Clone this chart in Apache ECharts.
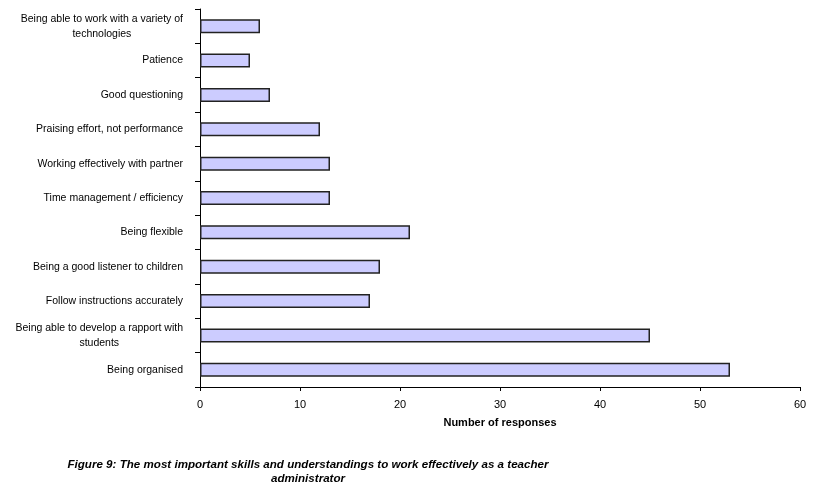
<!DOCTYPE html>
<html><head><meta charset="utf-8">
<script src="https://cdn.jsdelivr.net/npm/echarts@6/dist/echarts.min.js"></script>
<style>html,body{margin:0;padding:0;background:#fff}#c{width:818px;height:491px}</style>
</head><body><div id="c"></div>
<script>
var categories = [
  "Being organised",
  "Being able to develop a rapport with\nstudents",
  "Follow instructions accurately",
  "Being a good listener to children",
  "Being flexible",
  "Time management / efficiency",
  "Working effectively with partner",
  "Praising effort, not performance",
  "Good questioning",
  "Patience",
  "Being able to work with a variety of\ntechnologies"
];
var responses = [53, 45, 17, 18, 21, 13, 13, 12, 7, 5, 6];
var xTicks = [0, 10, 20, 30, 40, 50, 60];
var axisName = "Number of responses";
var caption = "Figure 9: The most important skills and understandings to work effectively as a teacher\nadministrator";

var chart = echarts.init(document.getElementById('c'));
var font = "Liberation Sans, Arial, sans-serif";
chart.setOption({
  animation: false,
  textStyle: {fontFamily: font},
  grid: {left: 200, right: 18, top: 9, bottom: 104, containLabel: false},
  xAxis: {
    type: 'value', min: xTicks[0], max: xTicks[xTicks.length-1], interval: 10,
    axisLine: {show: true, lineStyle: {color: '#000', width: 1}},
    axisTick: {show: true, length: 4, lineStyle: {color: '#000'}},
    axisLabel: {color: '#000', fontSize: 11, margin: 12, fontFamily: font},
    splitLine: {show: false},
    name: axisName, nameLocation: 'middle', nameGap: 30,
    nameTextStyle: {color: '#000', fontSize: 11, fontWeight: 'bold', fontFamily: font}
  },
  yAxis: {
    type: 'category', data: categories,
    axisLine: {show: true, lineStyle: {color: '#000', width: 1}},
    axisTick: {show: true, length: 5, alignWithLabel: false, lineStyle: {color: '#000'}},
    axisLabel: {color: '#000', fontSize: 10.5, margin: 17, fontFamily: font,
      formatter: function(v){return v.split('\n').map(function(s){return '{c|' + s + '}';}).join('\n');},
      rich: {c: {align: 'center', fontSize: 10.5, lineHeight: 15, color: '#000', fontFamily: font}}
    },
    splitLine: {show: false}
  },
  series: [{
    type: 'bar', data: responses, barWidth: 14,
    itemStyle: {color: '#ccccff', borderColor: '#222', borderWidth: 1.5}
  }],
  graphic: [{
    type: 'text', x: 308, y: 458,
    style: {text: caption, font: 'italic bold 11.6px ' + font, fill: '#000', textAlign: 'center', lineHeight: 14}
  }]
});
</script></body></html>
